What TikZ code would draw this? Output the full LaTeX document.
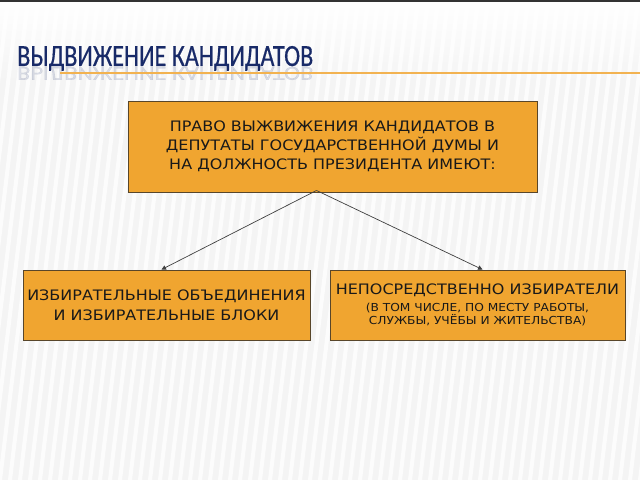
\documentclass[tikz,border=0pt]{standalone}
\usepackage{fontspec}
\setmainfont[FakeStretch=1.11]{DejaVu Sans}
\newfontfamily\titlefont[FakeBold=0.6]{Carlito}
\usepackage{tikz}
\usetikzlibrary{arrows.meta,positioning,fadings}

\definecolor{boxorange}{RGB}{240,165,48}
\definecolor{boxedge}{RGB}{88,70,42}
\definecolor{titleblue}{RGB}{24,42,104}
\definecolor{lineorange}{RGB}{242,178,80}

\tikzset{
    orangebox/.style={draw=boxedge, line width=0.9pt, fill=boxorange,
        text=black!90, align=center, inner sep=0pt},
    fork/.style={draw=black!75, line width=0.7pt,
        -{Triangle[length=4.5pt,width=4.5pt]}}
}

\begin{document}
\begin{tikzpicture}[x=1pt,y=1pt]
    \useasboundingbox (0,0) rectangle (640,480);
    \fill[gray!9] (0,0) rectangle (640,480);
    \foreach \x in {-70,-60,...,640}
        \draw[white, line width=4pt, opacity=0.75] (\x,0) -- (\x+58,480);
    \fill[white, path fading=south] (0,480) rectangle (640,395);
    \fill[black!80] (0,478) rectangle (640,480);

    \node[anchor=base west, inner sep=0pt, text=titleblue, opacity=0.14,
        yscale=-1, transform shape] (mirror) at (17,413)
        {\resizebox{296pt}{13pt}{\titlefont ВЫДВИЖЕНИЕ КАНДИДАТОВ}};
    \node[anchor=base west, inner sep=0pt, text=titleblue] (title) at (17,414)
        {\resizebox{296pt}{20pt}{\titlefont ВЫДВИЖЕНИЕ КАНДИДАТОВ}};
    \draw[lineorange, line width=1.3pt] (60,407) -- (640,407);

    \node[orangebox, minimum width=409pt, minimum height=91pt,
        font=\fontsize{14.4}{19}\selectfont] (rights) at (332.5,333.5)
        {ПРАВО ВЫЖВИЖЕНИЯ КАНДИДАТОВ В\\
         ДЕПУТАТЫ ГОСУДАРСТВЕННОЙ ДУМЫ И\\
         НА ДОЛЖНОСТЬ ПРЕЗИДЕНТА ИМЕЮТ:};
    \node[orangebox, minimum width=287pt, minimum height=70pt,
        font=\fontsize{14.4}{20}\selectfont] (parties) at (166.5,175)
        {ИЗБИРАТЕЛЬНЫЕ ОБЪЕДИНЕНИЯ\\
         И ИЗБИРАТЕЛЬНЫЕ БЛОКИ};
    \node[orangebox, minimum width=295pt, minimum height=70pt,
        font=\fontsize{14.4}{13}\selectfont] (voters) at (477.5,175)
        {НЕПОСРЕДСТВЕННО ИЗБИРАТЕЛИ\\[4pt]
         {\fontsize{11}{13}\selectfont (В ТОМ ЧИСЛЕ, ПО МЕСТУ РАБОТЫ,}\\
         {\fontsize{11}{13}\selectfont СЛУЖБЫ, УЧЁБЫ И ЖИТЕЛЬСТВА)}};

    \coordinate (split) at ([xshift=-16pt,yshift=2pt]rights.south);
    \draw[fork] (split) -- ([xshift=-5pt]parties.north);
    \draw[fork] (split) -- ([xshift=5pt]voters.north);
\end{tikzpicture}
\end{document}
